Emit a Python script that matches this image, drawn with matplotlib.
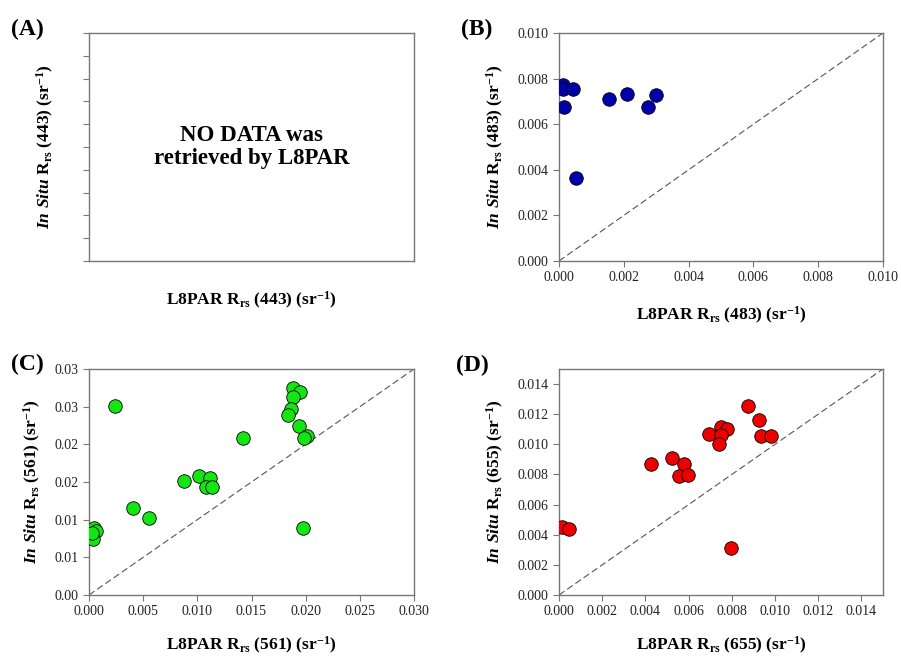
import matplotlib
matplotlib.use("Agg")
import matplotlib.pyplot as plt
from matplotlib.ticker import FixedLocator, FixedFormatter

plt.rcParams['font.family'] = ['Liberation Serif', 'DejaVu Serif']
plt.rcParams['mathtext.fontset'] = 'custom'
plt.rcParams['mathtext.rm'] = 'Liberation Serif:bold'
plt.rcParams['mathtext.bf'] = 'Liberation Serif:bold'
plt.rcParams['mathtext.it'] = 'Liberation Serif:bold:italic'

# ---- data ----
b_x = [0.000133, 0.000123, 0.00044, 0.000154, 0.00052, 0.00154, 0.00209, 0.00275, 0.00298]
b_y = [0.00772, 0.00754, 0.00754, 0.00674, 0.00366, 0.00710, 0.00731, 0.00676, 0.00728]

c_x = [0.00043, 0.00062, 0.00015, 0.00040, 0.00028, 0.00237, 0.0041, 0.00558,
       0.00877, 0.01015, 0.01117, 0.0108, 0.01133, 0.01423,
       0.01886, 0.01948, 0.01883, 0.01862, 0.01834, 0.01938, 0.0201, 0.01985, 0.01971]
c_y = [0.00894, 0.00854, 0.00783, 0.00743, 0.00827, 0.02504, 0.01159, 0.01027,
       0.01513, 0.01584, 0.01549, 0.0143, 0.01438, 0.02088,
       0.02744, 0.02695, 0.02628, 0.02469, 0.02389, 0.02247, 0.02115, 0.0208, 0.00889]

d_x = [0.000123, 0.000478, 0.00424, 0.00521, 0.0058, 0.00557, 0.00595,
       0.00877, 0.00927, 0.00749, 0.00779, 0.00696, 0.0075, 0.00934, 0.00981, 0.00742, 0.00795]
d_y = [0.004535, 0.0044, 0.00867, 0.00912, 0.00867, 0.0079, 0.00794,
       0.01256, 0.01162, 0.01117, 0.01102, 0.01067, 0.01062, 0.01057, 0.01055, 0.0100, 0.00312]

b_ticks = [0.0, 0.002, 0.004, 0.006, 0.008, 0.010]
b_labels = ['0.000', '0.002', '0.004', '0.006', '0.008', '0.010']
c_xticks = [0.0, 0.005, 0.010, 0.015, 0.020, 0.025, 0.030]
c_xlabels = ['0.000', '0.005', '0.010', '0.015', '0.020', '0.025', '0.030']
c_yticks = [0.0, 0.005, 0.010, 0.015, 0.020, 0.025, 0.030]
c_ylabels = ['0.00', '0.01', '0.01', '0.02', '0.02', '0.03', '0.03']
d_ticks = [0.0, 0.002, 0.004, 0.006, 0.008, 0.010, 0.012, 0.014]
d_labels = ['0.000', '0.002', '0.004', '0.006', '0.008', '0.010', '0.012', '0.014']

W, H = 901, 659
fig = plt.figure(figsize=(W / 100, H / 100), dpi=100)

def rect(l, r, t, b):
    return [l / W, 1 - b / H, (r - l) / W, (b - t) / H]

axA = fig.add_axes(rect(89, 414, 33, 261))
axB = fig.add_axes(rect(559, 883, 33, 261))
axC = fig.add_axes(rect(89, 414, 369, 595))
axD = fig.add_axes(rect(559, 883, 369, 595))

spine_c = '#777777'
tick_fs = 10
lab_fs = 12.5

def style(ax):
    for s in ax.spines.values():
        s.set_color(spine_c)
        s.set_linewidth(1.0)
    ax.tick_params(direction='out', length=4, width=0.8, color=spine_c,
                   labelsize=tick_fs, labelcolor='#222222')

def labels(ax, band, xpad):
    ax.set_xlabel(r'L8PAR R$_{\mathrm{rs}}$ (%s) (sr$^{\mathrm{-1}}$)' % band,
                  fontsize=lab_fs, fontweight='bold', labelpad=xpad)
    ax.set_ylabel(r'$\mathit{In\ Situ}$ R$_{\mathrm{rs}}$ (%s) (sr$^{\mathrm{-1}}$)' % band,
                  fontsize=lab_fs, fontweight='bold', labelpad=8)

# Panel A
style(axA)
axA.set_xlim(0, 10)
axA.set_ylim(0, 10)
axA.yaxis.set_major_locator(FixedLocator(list(range(11))))
axA.set_yticklabels([])
axA.set_xticks([])
axA.text(0.5, 0.5, 'NO DATA was\nretrieved by L8PAR', transform=axA.transAxes,
         ha='center', va='center', fontsize=16.5, fontweight='bold', linespacing=1.15)
axA.set_xlabel(r'L8PAR R$_{\mathrm{rs}}$ (443) (sr$^{\mathrm{-1}}$)',
               fontsize=lab_fs, fontweight='bold', labelpad=21)
axA.set_ylabel(r'$\mathit{In\ Situ}$ R$_{\mathrm{rs}}$ (443) (sr$^{\mathrm{-1}}$)',
               fontsize=lab_fs, fontweight='bold', labelpad=16)

def scatter_panel(ax, xs, ys, color, lim, xt, xl, yt, yl, band, xpad):
    style(ax)
    ax.plot([0, lim], [0, lim], linestyle=(0, (6, 3)), color='#555555', lw=0.8, zorder=1)
    ax.scatter(xs, ys, s=95, facecolor=color, edgecolor='black', linewidths=0.6, zorder=3)
    ax.set_xlim(0, lim)
    ax.set_ylim(0, lim)
    ax.xaxis.set_major_locator(FixedLocator(xt))
    ax.xaxis.set_major_formatter(FixedFormatter(xl))
    ax.yaxis.set_major_locator(FixedLocator(yt))
    ax.yaxis.set_major_formatter(FixedFormatter(yl))
    labels(ax, band, xpad)

scatter_panel(axB, b_x, b_y, '#0000AA', 0.010, b_ticks, b_labels, b_ticks, b_labels, '483', 15)
scatter_panel(axC, c_x, c_y, '#14E614', 0.030, c_xticks, c_xlabels, c_yticks, c_ylabels, '561', 12)
scatter_panel(axD, d_x, d_y, '#EE0000', 0.015, d_ticks, d_labels, d_ticks, d_labels, '655', 12)

# Panel letters
for txt, x, y in [('(A)', 11, 29), ('(B)', 461, 29), ('(C)', 11, 364), ('(D)', 456, 365)]:
    fig.text(x / W, 1 - y / H, txt, fontsize=17, fontweight='bold', ha='left', va='center')

fig.savefig('out.png', dpi=100)
